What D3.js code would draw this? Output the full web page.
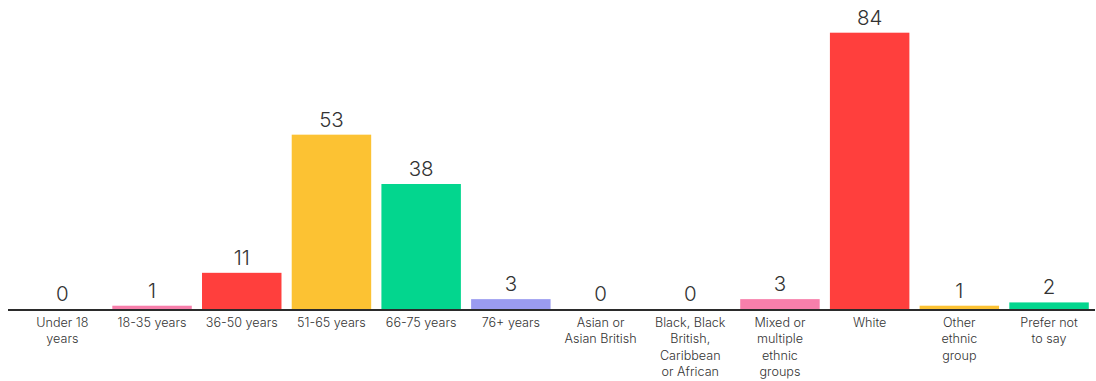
<!DOCTYPE html>
<html>
<head>
<meta charset="utf-8">
<script src="https://cdn.jsdelivr.net/npm/d3@7"></script>
<style>
  html, body { margin: 0; padding: 0; background: #fff; }
  svg { display: block; }
  text { font-family: Inter, "Open Sans", sans-serif; fill: #333; }
</style>
</head>
<body>
<svg id="chart" width="1096" height="381"></svg>
<script>
// Respondent profile: age groups followed by ethnic groups
const categories = [
  "Under 18\nyears",
  "18-35 years",
  "36-50 years",
  "51-65 years",
  "66-75 years",
  "76+ years",
  "Asian or\nAsian British",
  "Black, Black\nBritish,\nCaribbean\nor African",
  "Mixed or\nmultiple\nethnic\ngroups",
  "White",
  "Other\nethnic\ngroup",
  "Prefer not\nto say"
];
const values = [0, 1, 11, 53, 38, 3, 0, 0, 3, 84, 1, 2];
const colors = [
  "#f77fab", "#f77fab", "#ff3f3d", "#fcc233", "#03d68e", "#9a9bf0",
  "#f77fab", "#f77fab", "#f77fab", "#ff3f3d", "#fcc233", "#03d68e"
];

const svg = d3.select("#chart");
const baseY = 309;

const x = d3.scaleBand()
  .domain(d3.range(categories.length))
  .range([17.5, 17.5 + 89.7 * categories.length])
  .paddingInner(0.114)
  .paddingOuter(0.057);

const y = d3.scaleLinear()
  .domain([0, 84])
  .range([baseY, 32.7]);

// bars
svg.append("g")
  .selectAll("rect")
  .data(values)
  .join("rect")
  .attr("x", (d, i) => x(i))
  .attr("width", x.bandwidth())
  .attr("y", d => y(d))
  .attr("height", d => baseY - y(d))
  .attr("fill", (d, i) => colors[i]);

// value labels
svg.append("g")
  .selectAll("text")
  .data(values)
  .join("text")
  .attr("x", (d, i) => x(i) + x.bandwidth() / 2)
  .attr("y", d => y(d) - 8)
  .attr("text-anchor", "middle")
  .style("font-size", "20.5px")
  .style("font-weight", 350)
  .text(d => d);

// baseline axis with wrapped category labels
const axis = svg.append("g")
  .attr("transform", `translate(0,${baseY + 1})`)
  .call(d3.axisBottom(x).tickSize(0).tickFormat(i => categories[i]));

axis.select(".domain")
  .attr("d", "M8,0H1095")
  .attr("stroke", "#2b2b2b")
  .attr("stroke-width", 2);

axis.selectAll(".tick text")
  .style("font-size", "12.6px")
  .style("font-weight", 350)
  .attr("fill", "#333")
  .each(function(i) {
    const t = d3.select(this);
    const lines = categories[i].split("\n");
    t.text(null).attr("y", 0).attr("dy", null);
    lines.forEach((ln, k) => {
      t.append("tspan")
        .attr("x", 0)
        .attr("y", 16.5 + k * 16.6)
        .text(ln);
    });
  });
</script>
</body>
</html>
